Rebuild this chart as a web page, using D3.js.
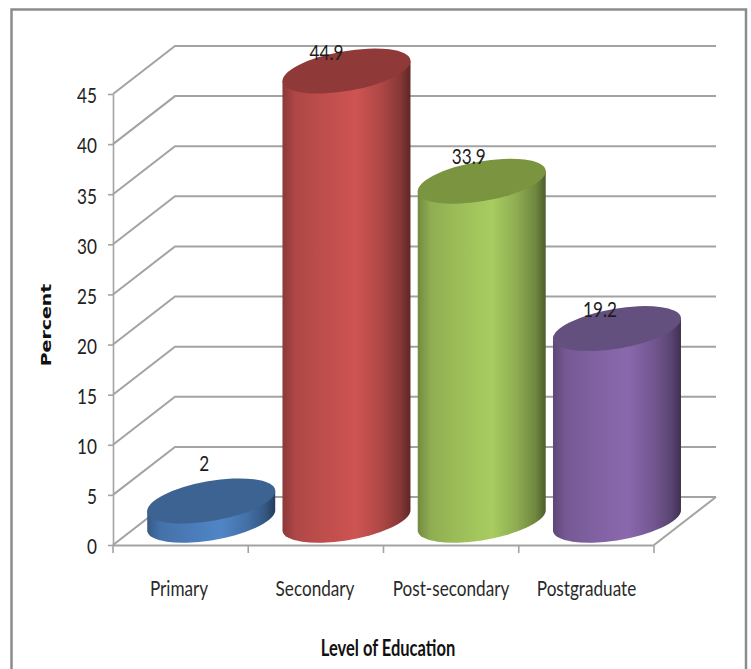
<!DOCTYPE html>
<html>
<head>
<meta charset="utf-8">
<script src="https://cdn.jsdelivr.net/npm/d3@7/dist/d3.min.js"></script>
<style>
  html, body { margin: 0; padding: 0; background: #fff; overflow: hidden; }
  svg { display: block; }
</style>
</head>
<body>
<script>
// Education level survey results
const categories = ["Primary", "Secondary", "Post-secondary", "Postgraduate"];
const percents = [2, 44.9, 33.9, 19.2];
const yTicks = [0, 5, 10, 15, 20, 25, 30, 35, 40, 45];
const bodyColors = ["#5085c6", "#cd5452", "#a8cc60", "#8a68ae"];
const capColors = ["#3d6392", "#8f3a38", "#7a9440", "#64507f"];
const labelNudgeX = [-7, -20, -13, -17];
const labelNudgeY = [-38, -19, -25, -20];

const width = 751, height = 669;
const depthX = 62, depthY = -48;       // oblique offset of the back wall
const gridColor = "#a3a3a3";
const textFont = "Lato, 'Liberation Sans', sans-serif";
const squeeze = 0.78;                   // all chart text is set condensed
const textSize = 22;

const svg = d3.select("body").append("svg")
  .attr("width", width).attr("height", height);

// Outer chart frame, running off the bottom of the page
svg.append("path")
  .attr("d", "M11.5,669V9.5H746V669")
  .attr("fill", "none").attr("stroke", "#8c8c8c").attr("stroke-width", 2.5);

const x = d3.scaleBand().domain(categories).range([113, 654]);
const y = d3.scaleLinear().domain([0, 45]).range([545, 94]);

// Back wall gridlines with their receding side segments
const grid = svg.append("g").attr("fill", "none").attr("stroke", gridColor);
grid.selectAll("path.wall").data(yTicks).join("path")
  .attr("class", "wall")
  .attr("stroke-width", 2)
  .attr("d", d => `M${x.range()[0]},${y(d)}l${depthX},${depthY}H${x.range()[1] + depthX}`);

// Floor edge on the right-hand side
grid.append("path").attr("stroke-width", 2)
  .attr("d", `M${x.range()[1]},${y(0)}l${depthX},${depthY}`);

// Value axis
const yAxis = svg.append("g").attr("transform", `translate(${x.range()[0]},0)`)
  .call(d3.axisLeft(y).tickValues(yTicks).tickSize(5).tickPadding(12).tickSizeOuter(0));
yAxis.select(".domain").attr("stroke", gridColor).attr("stroke-width", 1.6);
yAxis.selectAll(".tick line").attr("stroke", gridColor).attr("stroke-width", 1.6);
yAxis.selectAll(".tick text")
  .attr("font-family", textFont).attr("font-size", textSize).attr("fill", "#222")
  .attr("x", -16 / squeeze)
  .attr("dy", "0.4em")
  .attr("transform", `scale(${squeeze},1)`);

// Category axis
const xAxis = svg.append("g").attr("transform", `translate(0,${y(0)})`)
  .call(d3.axisBottom(x).tickValues([]).tickSizeOuter(0));
xAxis.select(".domain").attr("stroke", gridColor).attr("stroke-width", 2);
const edges = categories.map(c => x(c)).concat(x.range()[1]);
xAxis.selectAll("line.edge").data(edges).join("line")
  .attr("class", "edge")
  .attr("x1", d => d).attr("x2", d => d).attr("y1", 0).attr("y2", 8)
  .attr("stroke", gridColor).attr("stroke-width", 1.6);

// Tilted ellipse shared by every cylinder
const rx = 64.9, ry = 19.9, tilt = -9.8;
const sideDx = 64, sideDy = 10;
const baseLift = 24;                    // centre of base sits back from the front edge
const centerX = c => x(c) + x.bandwidth() / 2 + depthX / 2 - 0.4;
const ellipseAt = (cx, cy) => `translate(${cx},${cy}) rotate(${tilt})`;

const defs = svg.append("defs");
categories.forEach((c, i) => {
  const base = d3.rgb(bodyColors[i]);
  const shade = k => d3.rgb(base.r * k, base.g * k, base.b * k).formatHex();
  const g = defs.append("linearGradient").attr("id", `body-${i}`)
    .attr("x1", 0).attr("x2", 1).attr("y1", 0).attr("y2", 0);
  [[0, 0.68], [0.1, 0.85], [0.3, 0.92], [0.58, 1], [0.78, 0.84], [0.92, 0.66], [1, 0.46]]
    .forEach(([o, k]) => g.append("stop").attr("offset", o).attr("stop-color", shade(k)));
});

const bars = svg.selectAll("g.cylinder").data(categories).join("g").attr("class", "cylinder");

bars.append("path")
  .attr("fill", (c, i) => `url(#body-${i})`)
  .attr("d", (c, i) => {
    const cx = centerX(c);
    const cyBase = y(0) - baseLift;
    const cyTop = cyBase - (y(0) - y(percents[i]));
    return `M${cx - sideDx},${cyTop + sideDy}V${cyBase + sideDy}` +
      `A${rx},${ry} ${tilt} 0 0 ${cx + sideDx},${cyBase - sideDy}` +
      `V${cyTop - sideDy}Z`;
  });

bars.append("ellipse")
  .attr("rx", rx).attr("ry", ry)
  .attr("fill", (c, i) => capColors[i])
  .attr("transform", (c, i) => ellipseAt(centerX(c), y(percents[i]) - baseLift));

// Value labels
bars.append("text")
  .attr("transform", (c, i) =>
    `translate(${centerX(c) + labelNudgeX[i]},${y(percents[i]) - baseLift + labelNudgeY[i]}) scale(${squeeze},1)`)
  .attr("dy", "0.36em")
  .attr("text-anchor", "middle")
  .attr("font-family", textFont).attr("font-size", textSize).attr("fill", "#1c1c1c")
  .text((c, i) => percents[i]);

// Category labels
const catCenters = [179, 315, 451, 586.5];
svg.selectAll("text.cat").data(categories).join("text")
  .attr("class", "cat")
  .attr("transform", (c, i) => `translate(${catCenters[i]},596) scale(${squeeze},1)`)
  .attr("text-anchor", "middle")
  .attr("font-family", textFont).attr("font-size", textSize).attr("fill", "#2a2a2a")
  .text(c => c);

// Axis titles
svg.append("text")
  .attr("transform", "translate(388,656) scale(0.75,1)")
  .attr("text-anchor", "middle")
  .attr("font-family", textFont).attr("font-size", textSize).attr("font-weight", "bold").attr("fill", "#111")
  .text("Level of Education");

svg.append("text")
  .attr("transform", "translate(51,325) rotate(-90) scale(1.35,1)")
  .attr("text-anchor", "middle")
  .attr("font-family", "'DejaVu Sans', sans-serif").attr("font-size", 14).attr("font-weight", "bold").attr("fill", "#111")
  .text("Percent");
</script>
</body>
</html>
